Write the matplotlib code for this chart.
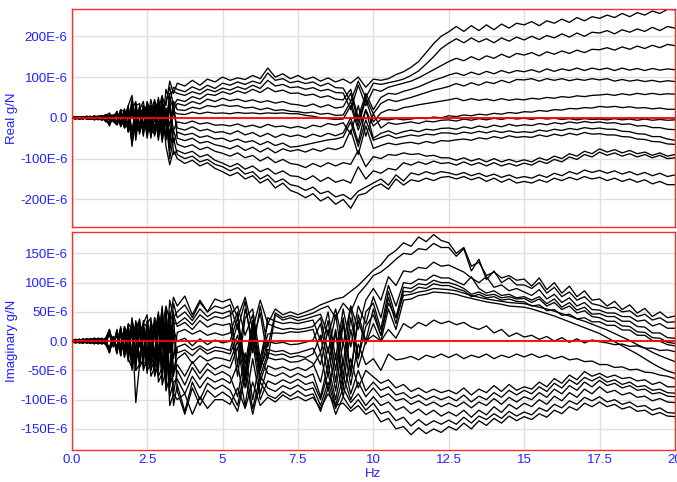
import matplotlib
matplotlib.use("Agg")
import matplotlib.pyplot as plt
import numpy as np

plt.rcParams['font.family'] = ['Liberation Sans', 'DejaVu Sans']

# frequency axis (Hz): 0.125 Hz steps up to 3.375 Hz, then 0.25 Hz steps 3.5..20 Hz
freq = np.concatenate([np.arange(28) * 0.125, 3.5 + np.arange(67) * 0.25])

x_ticks = [0, 2.5, 5, 7.5, 10, 12.5, 15, 17.5, 20]
x_tick_labels = ["0.0", "2.5", "5", "7.5", "10", "12.5", "15", "17.5", "20"]

real_ticks = [-200, -100, 0, 100, 200]
real_tick_labels = ["-200E-6", "-100E-6", "0.0", "100E-6", "200E-6"]
imag_ticks = [-150, -100, -50, 0, 50, 100, 150]
imag_tick_labels = ["-150E-6", "-100E-6", "-50E-6", "0.0", "50E-6", "100E-6", "150E-6"]

# ---- Real part (values in 1E-6 g/N) ----
U1 = [0,2,-3,1,4,-2,3,-5,2,8, -6,4,-12,18,-10,30,55,-20,25,-30, 40,10,45,-20,50,30,90,60] + \
     [85,78,92,80,95,88, 100,92,98,94,104,96,122,100,108,96, 104,94,100,90,98,88,95,85,100,75, 95,92,96,106,113,124,138,160,182,200, 211,224,212,226,214,228,216,230,220,232, 228,236,226,238,232,242,234,246,238,248, 244,252,246,256,248,258,252,262,256,266, 265]
U2 = [0,-2,1,3,-4,2,-5,3,6,-10, 4,-8,15,-20,22,-35,20,40,-25,30, -10,45,0,50,-30,70,40,75] + \
     [70,64,76,68,80,72, 85,80,88,82,90,84,110,92,96,86, 90,84,88,78,85,74,73,40,90,50, 85,82,86,90,95,104,115,132,150,170, 183,194,184,196,186,194,184,196,188,198, 191,200,192,202,196,206,198,208,200,210, 208,214,206,216,210,218,212,222,214,224, 220]
U3 = [0,1,3,-2,2,-4,4,-2,-6,5, 12,-6,8,10,-25,15,-45,30,35,-20, 38,-15,40,20,55,-20,60,65] + \
     [60,55,64,58,70,64, 73,68,76,70,80,72,92,78,82,74, 76,70,74,66,70,62,61,20,80,30, 70,65,75,80,85,90,98,108,118,128, 138,146,140,150,142,152,146,156,148,158, 154,160,152,162,156,164,158,166,160,168, 167,172,166,174,168,176,170,178,172,180, 177]
U4 = [0,-1,-3,2,-2,3,-3,4,3,-8, -15,8,-10,20,15,-20,35,-40,20,40, -15,30,-35,45,10,40,75,30] + \
     [45,40,52,46,58,55, 64,58,66,60,70,62,74,64,68,60, 61,55,58,50,54,46,44,70,0,60, 20,50,60,58,65,70,76,84,92,98, 105,110,104,112,106,114,108,116,110,116, 113,118,112,120,114,120,116,122,116,122, 118,122,116,122,117,121,116,121,117,120, 118]
U5 = [0,2,2,-3,3,-2,5,2,-4,6, 3,-5,16,-12,8,25,-30,20,-35,15, 30,-25,20,-30,35,-15,50,20] + \
     [35,30,40,34,46,40, 48,42,46,40,44,38,42,36,40,34, 32,28,34,26,32,24,27,60,-10,50, 10,35,45,40,45,50,56,62,68,72, 77,84,78,86,80,88,84,92,86,94, 93,96,90,96,92,96,91,95,92,96, 93,96,90,94,90,93,89,92,88,91, 89]
U6 = [0,-3,2,1,-3,3,-2,-4,5,-5, -10,6,-15,12,-20,10,20,-35,10,-25, 20,-40,25,10,-35,25,-20,40] + \
     [20,18,26,22,30,27, 32,28,30,24,26,20,24,18,20,16, 15,12,14,9,11,6,7,40,-20,45, -10,12,20,18,25,28,32,35,38,41, 44,48,42,47,43,46,42,47,43,46, 44,48,46,50,48,52,50,54,52,55, 56,58,55,59,56,60,57,60,57,59, 58]
U7 = [0,1,-2,3,-1,-3,2,3,-3,4, -18,3,6,-18,12,-25,-40,15,-20,25, -30,15,-25,35,-10,20,-40,15] + \
     [10,8,14,10,14,11, 12,10,13,11,12,10,12,11,12,10, 10,6,4,0,-2,-4,-3,30,-30,20, -20,-4,-5,-2,-5,-3,0,-2,2,0, 5,3,7,5,9,7,11,9,13,11, 15,14,18,16,20,19,23,22,25,24, 28,26,28,25,27,24,25,22,24,21, 21]
L1 = [0,-2,3,-1,2,4,-4,2,-5,-4, 6,-3,-14,8,-18,20,-50,25,-15,-30, 10,-20,30,-40,20,-45,25,-30] + \
     [-10,-14,-8,-15,-12,-18, -17,-20,-15,-22,-18,-24,-16,-22,-20,-25, -21,-26,-18,-22,-14,-18,-12,-40,30,-45, 10,-25,-12,-16,-13,-10,-14,-8,-10,-6, -5,-8,-3,-6,-2,-5,-1,-4,0,-3, -1,-4,0,-3,-1,-4,-2,-5,-2,-4, -3,-5,-2,-5,-3,-6,-3,-6,-4,-6, -5]
L2 = [0,3,-1,-2,4,-3,2,-3,4,-6, -12,5,10,-22,6,-30,30,-45,15,20, -35,30,-10,40,-40,10,-50,20] + \
     [-25,-30,-22,-32,-28,-36, -34,-40,-32,-42,-36,-46,-38,-48,-40,-46, -42,-48,-40,-46,-38,-44,-37,0,-60,20, -50,-38,-32,-40,-34,-30,-34,-28,-30,-26, -25,-28,-22,-26,-20,-24,-18,-22,-16,-20, -17,-19,-14,-17,-12,-15,-10,-13,-9,-12, -10,-13,-12,-16,-15,-20,-19,-24,-24,-28, -29]
L3 = [0,-1,2,2,-3,1,-4,3,-2,7, 4,-7,-12,15,-22,12,-60,10,-30,30, -25,-35,20,-45,15,-50,35,-60] + \
     [-35,-42,-38,-48,-44,-52, -50,-58,-52,-60,-56,-66,-58,-68,-62,-72, -70,-66,-62,-58,-54,-52,-47,-10,-70,-5, -55,-48,-42,-50,-46,-42,-45,-40,-42,-37, -37,-40,-35,-38,-33,-37,-32,-36,-32,-36, -34,-36,-30,-33,-28,-31,-26,-29,-24,-27, -25,-28,-28,-33,-34,-39,-40,-46,-46,-52, -55]
L4 = [0,2,-2,-3,1,3,3,-4,5,-3, -16,4,12,-10,18,-35,15,-25,25,-40, 15,-30,-40,25,-55,20,-70,40] + \
     [-50,-56,-50,-62,-58,-66, -70,-76,-68,-80,-72,-84,-74,-86,-76,-82, -78,-84,-76,-82,-74,-78,-71,-30,-90,-20, -75,-68,-62,-66,-62,-60,-64,-58,-62,-56, -57,-54,-52,-55,-49,-52,-46,-50,-44,-48, -46,-48,-42,-46,-40,-44,-38,-42,-36,-40, -39,-42,-42,-46,-47,-52,-53,-58,-59,-64, -65]
L5 = [0,-3,3,2,-2,-2,-3,4,-3,6, -5,-8,-18,20,-12,25,-70,35,-40,10, -40,25,-45,15,-50,-10,-80,-30] + \
     [-65,-72,-66,-78,-72,-82, -87,-94,-86,-98,-92,-106,-96,-110,-102,-112, -115,-122,-112,-120,-110,-118,-110,-114,-80,-120, -95,-100,-90,-92,-86,-90,-88,-94,-92,-98, -98,-104,-98,-106,-100,-108,-100,-108,-102,-108, -103,-108,-98,-104,-94,-100,-88,-94,-82,-88, -76,-84,-78,-86,-80,-88,-84,-92,-86,-94, -90]
L6 = [0,1,-3,-1,3,2,4,-3,4,-7, 8,5,-10,-15,20,-25,40,-30,30,-35, 25,-45,10,-50,20,-55,50,-90] + \
     [-80,-88,-82,-96,-90,-104, -111,-120,-112,-126,-118,-132,-124,-138,-130,-142, -144,-152,-142,-156,-146,-158,-152,-160,-120,-150, -130,-136,-124,-128,-110,-116,-108,-114,-106,-112, -110,-116,-108,-116,-110,-118,-110,-118,-112,-118, -111,-116,-106,-112,-102,-108,-96,-102,-90,-96, -84,-92,-86,-94,-88,-96,-90,-98,-92,-100, -98]
L7 = [0,-2,-1,3,-3,-3,2,4,-4,5, -20,4,14,-20,-8,30,-65,-10,-35,30, -50,5,-40,30,-60,10,-100,-50] + \
     [-90,-100,-94,-108,-102,-114, -120,-130,-122,-138,-132,-150,-140,-158,-150,-164, -168,-178,-170,-186,-180,-194,-188,-200,-180,-170, -160,-150,-165,-140,-155,-135,-140,-132,-138,-132, -135,-140,-134,-142,-136,-144,-138,-146,-140,-148, -144,-148,-140,-146,-136,-142,-132,-138,-128,-134, -129,-136,-130,-138,-132,-140,-134,-142,-136,-144, -140]
L8 = [0,3,1,-2,2,-1,-5,-2,2,-6, 5,-9,-16,10,-25,-15,45,-55,20,-45, 35,-50,15,-55,40,-70,-115,-80] + \
     [-100,-112,-104,-118,-110,-124, -132,-142,-134,-150,-142,-160,-150,-172,-160,-178, -185,-196,-186,-204,-194,-212,-200,-222,-190,-185, -170,-162,-175,-150,-165,-152,-156,-148,-154,-146, -144,-150,-144,-152,-146,-156,-148,-158,-150,-160, -156,-160,-152,-158,-148,-154,-146,-152,-144,-150, -146,-154,-148,-156,-150,-158,-152,-162,-156,-164, -164]

# ---- Imaginary part (values in 1E-6 g/N) ----
I1 = [0,3,-2,4,-3,2,5,-4,3,-5, 20,-6,15,-18,22,-15,35,10,38,-20, 30,40,-25,45,20,60,35,75] + \
     [60,77,45,70,50,72, 67,72,40,75,20,70,30,55,45,50, 45,50,55,62,67,72,75,85,95,108, 121,130,146,155,168,162,178,170,182,172, 168,150,160,128,135,112,118,108,112,104, 106,94,108,88,100,82,94,76,86,70, 72,60,68,54,62,48,56,42,50,40, 43]
I2 = [0,-2,3,-3,2,4,-4,3,-5,4, -15,8,-12,20,-20,28,-25,35,-10,30, 45,-20,40,15,55,-30,70,40] + \
     [50,62,40,66,50,60, 56,62,20,68,-20,60,-10,48,40,44, 40,44,48,55,60,40,65,50,80,95, 112,118,128,140,150,148,158,156,167,160, 160,145,158,120,140,105,120,100,108,96, 96,90,100,82,92,76,84,70,76,64, 61,56,58,50,52,42,46,36,40,32, 33]
I3 = [0,2,-3,2,4,-3,-3,4,-2,5, 12,-8,18,-10,25,10,-30,25,35,-15, -30,35,10,50,-40,55,-20,65] + \
     [40,50,35,55,42,50, 47,52,-40,55,0,48,-30,45,36,40, 35,38,42,46,10,55,-5,60,20,70, 90,70,110,95,120,118,126,124,135,128, 130,124,118,108,100,110,92,96,86,90, 84,78,88,72,80,66,74,60,66,54, 53,48,48,42,42,34,36,26,30,22, 22]
I4 = [0,-3,2,-2,-3,3,4,-2,5,-4, -20,5,-15,22,-12,30,20,-30,15,30, 25,-35,40,-20,60,-45,50,30] + \
     [30,40,28,45,35,42, 39,44,60,10,45,-50,40,34,30,32, 30,33,36,0,50,-30,55,-10,60,30, 76,40,95,60,100,98,106,104,113,108, 108,102,96,110,90,82,86,78,80,74, 76,70,76,64,72,58,66,53,58,46, 47,42,42,34,34,25,24,14,14,6, 5]
I5 = [0,2,3,-4,2,-2,-4,5,-3,3, 18,-6,10,-20,18,-25,40,-15,-35,20, -25,30,-40,35,-15,50,-60,45] + \
     [25,32,20,35,24,30, 27,30,-60,40,55,-30,30,24,20,22, 20,22,25,40,-20,45,-40,60,-30,50, 65,20,85,40,92,90,98,96,104,100, 100,96,90,80,84,78,80,74,76,72, 73,66,72,60,66,54,60,48,52,42, 40,34,34,26,25,16,15,6,5,-2, -4]
I6 = [0,-2,-2,3,-4,4,3,-5,4,-3, -12,7,-18,15,-25,20,-20,30,25,-30, 15,-45,30,-35,45,-20,40,-30] + \
     [15,20,12,18,10,14, 10,14,50,-60,30,-40,12,14,13,16, 15,17,20,-20,35,-50,40,-60,45,0, 55,10,75,30,85,84,92,90,98,95, 95,90,86,76,80,74,76,70,72,68, 67,60,62,52,54,44,46,38,40,33, 33,27,27,19,19,10,10,1,0,-6, -8]
I7 = [0,3,-3,-2,3,-3,2,4,-4,4, 15,-8,20,-15,10,-28,30,-40,20,-25, 35,-30,-40,30,-50,35,-70,20] + \
     [0,5,-8,4,-6,2, -3,0,40,-40,35,-50,0,-4,-2,-6, -5,-2,2,30,-40,20,-60,40,-30,25, 45,10,65,40,78,80,84,86,90,89, 88,86,82,78,75,72,70,68,66,65, 64,61,58,55,51,47,43,38,34,29, 24,19,13,7,1,-6,-12,-19,-25,-30, -35]
I8 = [0,-3,2,3,-2,3,-4,-3,5,-5, -18,6,-10,25,-20,18,-35,20,-40,35, -20,25,-45,-20,40,-55,30,-60] + \
     [-10,-5,-15,-8,-16,-10, -12,-16,30,-60,25,-45,-14,-18,-16,-22, -20,-16,-12,-40,20,-70,30,-50,35,-5, 30,0,55,20,70,72,78,80,84,83, 82,80,76,73,70,67,65,63,60,59, 58,55,51,47,43,38,33,28,23,18, 13,6,-1,-8,-15,-22,-30,-38,-45,-51, -55]
I9 = [0,2,-2,-3,3,-4,5,2,-5,4, 12,-5,15,-25,15,-20,25,-50,30,-35, -40,15,-30,40,-60,20,-80,10] + \
     [-20,-15,-25,-12,-22,-16, -18,-22,10,-50,20,-60,-20,-24,-22,-28, -25,-28,-22,10,-60,15,-80,20,-45,0, 10,0,20,5,30,22,32,26,36,30, 34,28,32,24,20,26,14,20,8,14, 7,10,3,8,0,6,-2,4,-3,2, -1,-3,-6,-5,-9,-8,-12,-12,-16,-15, -18]
I10 = [0,-2,3,2,-3,2,-5,3,3,-6, -15,8,-20,12,-22,25,-40,15,-30,25, -45,-25,35,-50,30,-70,45,-50] + \
      [-30,-20,-38,-25,-34,-28, -30,-34,0,-65,10,-70,-28,-32,-30,-36, -35,-30,-38,-70,-10,-85,0,-75,-5,-40, -30,-50,-22,-32,-30,-26,-32,-24,-28,-22, -28,-22,-30,-24,-28,-22,-30,-24,-28,-22, -27,-22,-28,-24,-30,-26,-32,-30,-35,-34, -40,-40,-45,-44,-49,-48,-53,-54,-58,-60, -64]
J1 = [0,3,-2,-3,2,-3,3,-4,-3,5, 20,-7,12,-20,25,-30,-45,30,-35,-40, 20,-50,-30,25,-65,10,-75,-55] + \
     [-40,-60,-35,-55,-38,-48, -41,-46,-10,-80,0,-90,-42,-48,-44,-50, -45,-50,-42,-20,-85,-25,-95,-30,-80,-50, -61,-72,-66,-80,-74,-86,-80,-88,-82,-88, -84,-90,-80,-92,-82,-88,-76,-86,-74,-84, -78,-82,-70,-78,-64,-72,-58,-66,-52,-60, -55,-62,-58,-64,-62,-68,-66,-74,-70,-78, -78]
J2 = [0,-2,2,3,-3,2,-3,5,4,-4, -10,5,-22,18,-15,25,-30,-40,20,-45, -35,20,-55,-30,30,-80,20,-90] + \
     [-50,-75,-45,-65,-48,-58, -52,-60,-95,-20,-100,-30,-55,-60,-54,-62, -55,-62,-56,-95,-40,-100,-35,-90,-50,-85, -70,-84,-78,-92,-88,-98,-92,-100,-94,-100, -95,-102,-92,-104,-94,-100,-88,-96,-84,-92, -84,-90,-78,-86,-72,-80,-66,-74,-62,-68, -61,-70,-66,-74,-70,-78,-76,-84,-82,-88, -89]
J3 = [0,2,3,-2,-2,-4,4,-3,4,-3, 15,-4,10,-25,20,-30,20,-50,-40,15, -50,-40,25,-60,-45,40,-95,-70] + \
     [-65,-90,-60,-80,-62,-70, -64,-72,-40,-110,-30,-100,-68,-74,-66,-72, -65,-74,-70,-100,-55,-110,-60,-100,-70,-95, -80,-96,-90,-102,-98,-108,-102,-110,-104,-112, -106,-112,-104,-114,-104,-110,-98,-108,-96,-104, -95,-100,-88,-96,-82,-90,-76,-84,-70,-78, -67,-76,-72,-80,-76,-84,-82,-90,-88,-94, -95]
J4 = [0,-3,-2,2,4,3,-3,-4,-4,6, -20,6,-15,18,-28,12,-50,25,-45,-30, 25,-60,-45,30,-75,-50,30,-110] + \
     [-75,-120,-70,-100,-72,-82, -75,-84,-110,-45,-115,-60,-80,-86,-76,-82, -75,-84,-80,-110,-70,-115,-80,-105,-90,-110, -95,-110,-104,-118,-112,-124,-116,-126,-118,-128, -121,-128,-118,-130,-118,-126,-112,-122,-108,-116, -106,-112,-100,-108,-94,-102,-88,-96,-82,-90, -78,-88,-84,-92,-88,-96,-94,-102,-98,-104, -105]
J5 = [0,2,-3,4,-2,-3,5,3,-3,-5, 12,-10,18,-20,10,-35,25,-105,-40,20, -55,15,-60,-40,20,-85,-60,50] + \
     [-85,-125,-80,-110,-84,-96, -87,-96,-120,-60,-125,-70,-92,-98,-86,-94, -85,-94,-90,-120,-80,-125,-95,-115,-100,-118, -106,-124,-120,-136,-130,-145,-134,-144,-136,-142, -135,-142,-130,-140,-128,-134,-124,-132,-120,-128, -121,-126,-114,-120,-108,-114,-102,-108,-96,-102, -95,-104,-100,-108,-104,-112,-110,-118,-114,-122, -123]
J6 = [0,-2,3,-2,3,2,-4,4,3,4, -18,5,-12,22,-25,20,-40,-15,30,-50, -30,-50,20,-70,-55,25,-110,-90] + \
     [-100,-90,-125,-95,-115,-100, -100,-108,-80,-115,-70,-110,-96,-104,-92,-100, -95,-102,-96,-115,-90,-110,-106,-120,-110,-125, -118,-138,-132,-150,-146,-160,-148,-158,-150,-156, -146,-152,-140,-150,-136,-144,-132,-140,-128,-136, -129,-134,-124,-130,-118,-124,-112,-118,-106,-112, -104,-112,-108,-116,-112,-120,-118,-126,-122,-128, -129]

real_lines = [U1, U2, U3, U4, U5, U6, U7, L1, L2, L3, L4, L5, L6, L7, L8]
imag_lines = [I1, I2, I3, I4, I5, I6, I7, I8, I9, I10, J1, J2, J3, J4, J5, J6]

BLUE = '#2020ff'
RED = '#ff2a2a'

fig = plt.figure(figsize=(6.77, 4.82), dpi=100)
ax1 = fig.add_axes([0.1059, 0.5297, 0.8911, 0.4517])
ax2 = fig.add_axes([0.1059, 0.0664, 0.8911, 0.4517])

panels = [
    (ax1, real_lines, 267, real_ticks, real_tick_labels, "Real g/N"),
    (ax2, imag_lines, 186, imag_ticks, imag_tick_labels, "Imaginary g/N"),
]

for ax, lines, lim, yt, ytl, ylab in panels:
    for v in lines:
        ax.plot(freq, v, color='black', lw=0.95, zorder=2)
    ax.axhline(0, color='#ff0000', lw=1.3, zorder=3)
    ax.set_xlim(0, 20)
    ax.set_ylim(-lim, lim)
    ax.set_xticks(x_ticks)
    ax.set_yticks(yt)
    ax.set_yticklabels(ytl)
    ax.grid(True, color='#e0e0e0', lw=1.0)
    ax.set_axisbelow(True)
    for s in ax.spines.values():
        s.set_color(RED)
        s.set_linewidth(1.0)
    ax.tick_params(length=0, labelcolor=BLUE, labelsize=9.5, pad=3)
    ax.set_ylabel(ylab, color=BLUE, fontsize=9.5)
    ax.yaxis.set_label_coords(-0.089, 0.5)

ax1.set_xticklabels([])
ax2.set_xticklabels(x_tick_labels)
ax2.set_xlabel("Hz", color=BLUE, fontsize=9.5, labelpad=1)

fig.savefig("out.png", dpi=100)
